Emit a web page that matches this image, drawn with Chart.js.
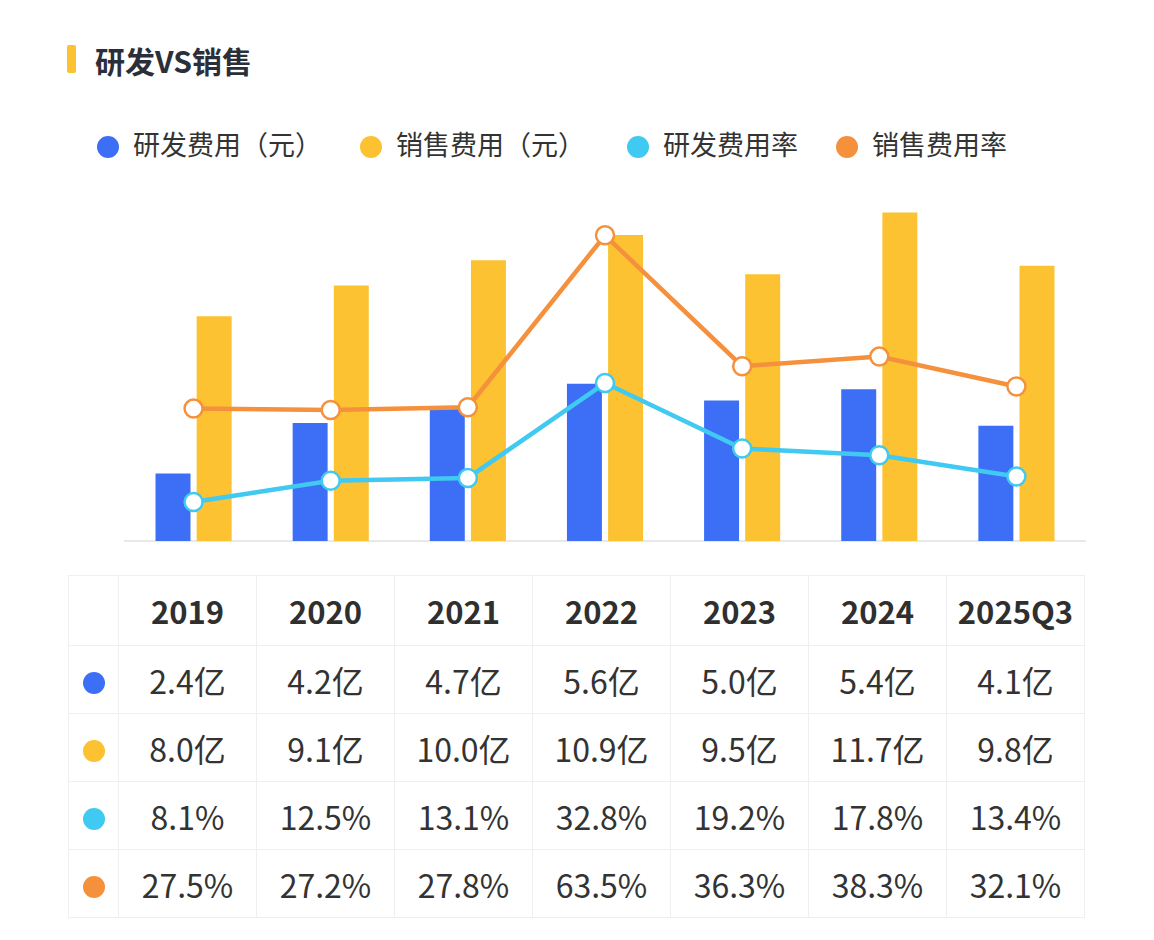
<!DOCTYPE html>
<html lang="zh">
  <head>
    <meta charset="UTF-8" />
    <title>研发VS销售</title>
    <script src="https://cdn.jsdelivr.net/npm/chart.js"></script>
    <style>
      body {
        margin: 0;
        background: #fff;
        font-family: "Noto Sans CJK SC", "Noto Sans", sans-serif;
        color: #333;
      }
      #page { position: relative; width: 1154px; height: 940px; overflow: hidden; }
      .title-bar {
        position: absolute; left: 67px; top: 45px; width: 9px; height: 28px;
        background: #fcc231; border-radius: 2px;
      }
      .title {
        position: absolute; left: 95px; top: 40px; font-size: 30px; font-weight: bold;
        color: #2b2f3a; line-height: 40px;
      }
      .legend { position: absolute; top: 125px; left: 97px; height: 38px; }
      .legend span.item {
        position: absolute; top: 0; white-space: nowrap; font-size: 27px; line-height: 38px; color: #333;
      }
      .legend i {
        display: inline-block; width: 22px; height: 22px; border-radius: 50%;
        vertical-align: -3px; margin-right: 14px;
      }
      #chartBox { position: absolute; left: 0; top: 0; width: 1154px; height: 560px; }
      table {
        position: absolute; left: 68px; top: 575px; border-collapse: collapse;
        table-layout: fixed;
      }
      td {
        border: 1.5px solid #efefef; text-align: center; font-size: 32px;
        height: 67px; padding: 0; color: #333; white-space: nowrap;
      }
      tr.head td { font-weight: bold; font-size: 31px; height: 69px; color: #2f2f2f; }
      td.dot i { display: inline-block; width: 22px; height: 22px; border-radius: 50%; }
    </style>
  </head>
  <body>
    <div id="page">
      <div class="title-bar"></div>
      <div class="title">研发VS销售</div>
      <div class="legend" id="legend"></div>
      <div id="chartBox"><canvas id="chartRdSales"></canvas></div>
      <table id="dataTable"></table>
    </div>

    <script>
      // datos
      const years = ['2019', '2020', '2021', '2022', '2023', '2024', '2025Q3'];
      const rdExpense = [2.4, 4.2, 4.7, 5.6, 5.0, 5.4, 4.1];        // 亿
      const salesExpense = [8.0, 9.1, 10.0, 10.9, 9.5, 11.7, 9.8];  // 亿
      const rdRate = [8.1, 12.5, 13.1, 32.8, 19.2, 17.8, 13.4];     // %
      const salesRate = [27.5, 27.2, 27.8, 63.5, 36.3, 38.3, 32.1]; // %
      const seriesNames = ['研发费用（元）', '销售费用（元）', '研发费用率', '销售费用率'];

      const BLUE = '#3d6ef6';
      const YELLOW = '#fcc231';
      const CYAN = '#40c9f1';
      const ORANGE = '#f5903d';
      const colors = [BLUE, YELLOW, CYAN, ORANGE];

      // leyenda
      var legendX = [0, 263, 530, 739];
      var legend = document.getElementById('legend');
      seriesNames.forEach(function (name, i) {
        var s = document.createElement('span');
        s.className = 'item';
        s.style.left = legendX[i] + 'px';
        s.innerHTML = '<i style="background:' + colors[i] + '"></i>' + name;
        legend.appendChild(s);
      });

      // gráfico
      var ctx = document.getElementById('chartRdSales').getContext('2d');
      var chart = new Chart(ctx, {
        type: 'bar',
        data: {
          labels: years,
          datasets: [
            {
              label: seriesNames[0], data: rdExpense, backgroundColor: BLUE,
              yAxisID: 'y', order: 2, categoryPercentage: 0.6, barPercentage: 0.85
            },
            {
              label: seriesNames[1], data: salesExpense, backgroundColor: YELLOW,
              yAxisID: 'y', order: 2, categoryPercentage: 0.6, barPercentage: 0.85
            },
            {
              type: 'line', label: seriesNames[2], data: rdRate, yAxisID: 'y1', order: 1,
              borderColor: CYAN, borderWidth: 4.5, pointRadius: 9, pointBorderWidth: 2.5,
              pointBackgroundColor: '#fff', pointBorderColor: CYAN, tension: 0
            },
            {
              type: 'line', label: seriesNames[3], data: salesRate, yAxisID: 'y1', order: 1,
              borderColor: ORANGE, borderWidth: 4.5, pointRadius: 9, pointBorderWidth: 2.5,
              pointBackgroundColor: '#fff', pointBorderColor: ORANGE, tension: 0
            }
          ]
        },
        options: {
          responsive: true,
          maintainAspectRatio: false,
          animation: false,
          layout: { padding: { left: 125, right: 69, top: 204, bottom: 11 } },
          plugins: { legend: { display: false }, tooltip: { enabled: false } },
          scales: {
            x: {
              grid: { display: false },
              ticks: { display: false },
              border: { display: true, color: '#e8e8e8', width: 2 }
            },
            y: { display: false, min: 0, max: 12 },
            y1: { display: false, min: 0, max: 70 }
          }
        }
      });

      // tabla
      var table = document.getElementById('dataTable');
      var html = '<colgroup><col style="width:50px">';
      years.forEach(function () { html += '<col style="width:138px">'; });
      html += '</colgroup><tr class="head"><td></td>';
      years.forEach(function (y) { html += '<td>' + y + '</td>'; });
      html += '</tr>';
      var rows = [
        [rdExpense, '亿'], [salesExpense, '亿'], [rdRate, '%'], [salesRate, '%']
      ];
      rows.forEach(function (r, i) {
        html += '<tr><td class="dot"><i style="background:' + colors[i] + '"></i></td>';
        r[0].forEach(function (v) { html += '<td>' + v.toFixed(1) + r[1] + '</td>'; });
        html += '</tr>';
      });
      table.innerHTML = html;
    </script>
  </body>
</html>
